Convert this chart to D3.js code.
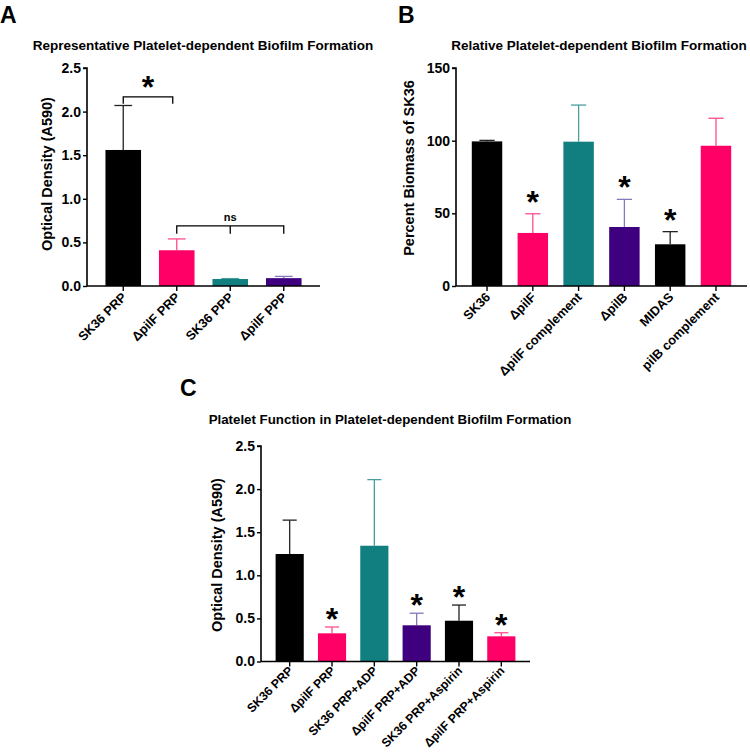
<!DOCTYPE html>
<html><head><meta charset="utf-8">
<script src="https://cdn.jsdelivr.net/npm/d3@7"></script>
<style>
body{margin:0;background:#fff;}
svg text{font-family:"Liberation Sans",Arial,Helvetica,sans-serif;font-weight:bold;fill:#000;}
</style></head>
<body><svg id="c" width="750" height="754"></svg>
<script>
// ---- Data ----
const catsA = ["SK36 PRP", "ΔpilF PRP", "SK36 PPP", "ΔpilF PPP"];
const meanA = [1.56, 0.41, 0.08, 0.09];
const errA  = [0.51, 0.13, 0.005, 0.02];
const colA  = ["black", "pink", "teal", "purple"];
const ticksA = [0, 0.5, 1.0, 1.5, 2.0, 2.5];

const catsB = ["SK36", "ΔpilF", "ΔpilF complement", "ΔpilB", "MIDAS", "pilB complement"];
const meanB = [99.5, 36.5, 99.3, 40.6, 28.7, 96.5];
const errB  = [0.7, 13.2, 25.2, 19.0, 8.7, 18.9];
const colB  = ["black", "pink", "teal", "purple", "black", "pink"];
const starB = [false, true, false, true, true, false];
const ticksB = [0, 50, 100, 150];

const catsC = ["SK36 PRP", "ΔpilF PRP", "SK36 PRP+ADP", "ΔpilF PRP+ADP", "SK36 PRP+Aspirin", "ΔpilF PRP+Aspirin"];
const meanC = [1.247, 0.327, 1.343, 0.42, 0.473, 0.292];
const errC  = [0.393, 0.073, 0.767, 0.14, 0.182, 0.042];
const colC  = ["black", "pink", "teal", "purple", "black", "pink"];
const starC = [false, true, false, true, true, true];
const ticksC = [0, 0.5, 1.0, 1.5, 2.0, 2.5];

const fill = {black:"#000000", pink:"#FF0066", teal:"#117F7F", purple:"#3F007F"};
const errCol = {black:"#222222", pink:"#FF4D90", teal:"#4A9E9E", purple:"#8877BB"};

const svg = d3.select("#c");

function panel(o){
  const g = svg.append("g");
  const y = d3.scaleLinear().domain([0, o.ymax]).range([o.y0, o.y1]);
  const x = d3.scaleBand().domain(o.cats).range([o.x0, o.x1]).paddingInner(0.335).paddingOuter(0.345);
  o.cats.forEach((c,i)=>{
    const m = o.mean[i], e = o.err[i];
    const cx = x(c) + x.bandwidth()/2;
    const col = o.col[i];
    g.append("line").attr("x1",cx).attr("x2",cx).attr("y1",y(m)).attr("y2",y(m+e))
      .attr("stroke",errCol[col]).attr("stroke-width",1.3);
    g.append("line").attr("x1",cx-x.bandwidth()/4).attr("x2",cx+x.bandwidth()/4).attr("y1",y(m+e)).attr("y2",y(m+e))
      .attr("stroke",errCol[col]).attr("stroke-width",1.3);
    g.append("rect").attr("x",x(c)).attr("width",x.bandwidth())
      .attr("y",y(m)).attr("height",y(0)-y(m)).attr("fill",fill[col]);
    if(o.star && o.star[i]){
      g.append("text").attr("x",cx).attr("y",y(m+e)-o.starGap).attr("text-anchor","middle")
        .attr("font-size",32).text("*");
    }
  });
  const ya = d3.axisLeft(y).tickValues(o.ticks).tickSize(4).tickPadding(2).tickFormat(o.fmt);
  const yg = g.append("g").attr("transform",`translate(${o.x0},0)`).call(ya);
  yg.select(".domain").attr("stroke","#000").attr("stroke-width",1.6).attr("d",`M-4,${o.y1}H0V${o.y0}`);
  yg.selectAll(".tick line").attr("stroke","#000").attr("stroke-width",1.4);
  yg.selectAll(".tick text").attr("font-size",14).attr("font-family","Liberation Sans, Arial").attr("font-weight","bold").attr("fill","#000");
  const xa = d3.axisBottom(x).tickSize(5).tickFormat("");
  const xg = g.append("g").attr("transform",`translate(0,${o.y0})`).call(xa);
  xg.select(".domain").attr("stroke","#000").attr("stroke-width",1.6).attr("d",`M${o.x0},0H${o.x1}`);
  xg.selectAll(".tick line").attr("stroke","#000").attr("stroke-width",1.4);
  o.cats.forEach(c=>{
    const cx = x(c)+x.bandwidth()/2;
    g.append("text").attr("text-anchor","end").attr("font-size",o.xfs)
      .attr("transform",`translate(${cx+4},${o.y0+o.xoff}) rotate(-45)`).text(c);
  });
  g.append("text").attr("text-anchor","middle").attr("font-size",14.5)
    .attr("transform",`translate(${o.ylx},${o.yly}) rotate(-90)`).attr("dy","0.35em").text(o.ylab);
  g.append("text").attr("text-anchor","middle").attr("font-size",o.tfs).attr("x",o.tx).attr("y",o.ty).text(o.title);
  g.append("text").attr("font-size",23).attr("x",o.lx).attr("y",o.ly).text(o.letter);
  return {x,y,g};
}

const A = panel({cats:catsA, mean:meanA, err:errA, col:colA, ymax:2.5, ticks:ticksA, fmt:d3.format(".1f"),
  x0:87, x1:320, y0:286, y1:68, ylab:"Optical Density (A590)", ylx:47, yly:174, xfs:12.8, xoff:12, tfs:13.5,
  title:"Representative Platelet-dependent Biofilm Formation", tx:203, ty:50, letter:"A", lx:0, ly:23, starGap:0});
const B = panel({cats:catsB, mean:meanB, err:errB, col:colB, ymax:150, ticks:ticksB, fmt:d3.format("d"),
  x0:456, x1:747, y0:286, y1:68, ylab:"Percent Biomass of SK36", ylx:408.5, yly:168, xfs:12.8, xoff:12, tfs:13.5,
  title:"Relative Platelet-dependent Biofilm Formation", tx:599, ty:50, letter:"B", lx:398, ly:23, star:starB, starGap:1});
const C = panel({cats:catsC, mean:meanC, err:errC, col:colC, ymax:2.5, ticks:ticksC, fmt:d3.format(".1f"),
  x0:261, x1:530, y0:661.5, y1:446, ylab:"Optical Density (A590)", ylx:217, yly:555, xfs:12.2, xoff:10, tfs:13.3,
  title:"Platelet Function in Platelet-dependent Biofilm Formation", tx:390, ty:424, letter:"C", lx:180, ly:396, star:starC, starGap:-3});

// significance brackets in panel A
const sigStar = [{from:"SK36 PRP", to:"ΔpilF PRP", level:2.17, label:"*"}];
const sigNs = [{from:"ΔpilF PRP", mid:"SK36 PPP", to:"ΔpilF PPP", level:0.69, label:"ns"}];
sigStar.forEach(s=>{
  const x1 = A.x(s.from)+A.x.bandwidth()/2, x2 = A.x(s.to)+A.x.bandwidth()/2 - 4;
  const yy = A.y(s.level);
  A.g.append("path").attr("d",`M${x1},${yy+7}V${yy}H${x2}V${yy+7}`).attr("fill","none").attr("stroke","#000").attr("stroke-width",1.3);
  A.g.append("text").attr("x",(x1+x2)/2).attr("y",yy+1).attr("text-anchor","middle").attr("font-size",32).text(s.label);
});
sigNs.forEach(s=>{
  const x1 = A.x(s.from)+A.x.bandwidth()/2, xm = A.x(s.mid)+A.x.bandwidth()/2, x2 = A.x(s.to)+A.x.bandwidth()/2;
  const yy = A.y(s.level);
  A.g.append("path").attr("d",`M${x1},${yy+8}V${yy}H${x2}V${yy+8}M${xm},${yy}V${yy+8}`).attr("fill","none").attr("stroke","#000").attr("stroke-width",1.3);
  A.g.append("text").attr("x",xm).attr("y",yy-5).attr("text-anchor","middle").attr("font-size",11).text(s.label);
});
</script></body></html>
